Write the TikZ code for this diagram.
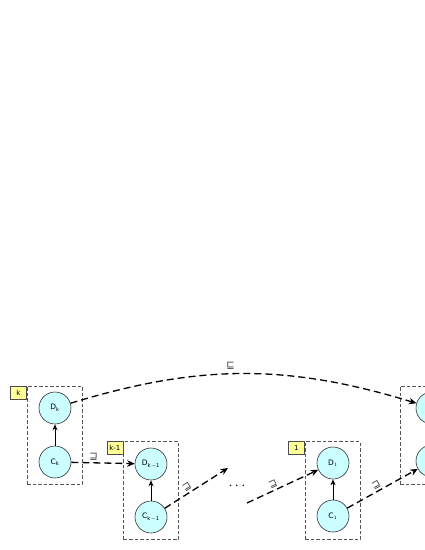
\documentclass[tikz,border=0pt]{standalone}
\usepackage{fontspec}
\setmainfont{DejaVu Sans}
\usetikzlibrary{arrows.meta}
\definecolor{cfill}{HTML}{CCFFFF}
\definecolor{tfill}{HTML}{FFFF99}
\definecolor{boxgray}{HTML}{555555}
\tikzset{
  var/.style={circle, draw=black!80, fill=cfill, line width=0.6pt, minimum size=32pt, inner sep=0pt, font=\fontsize{7.5}{8}\selectfont},
  plate/.style={draw=boxgray, dashed, dash pattern=on 3.5pt off 2pt, line width=0.7pt, minimum width=55pt, minimum height=98pt, inner sep=0pt},
  tag/.style={draw=black!70, fill=tfill, line width=0.5pt, minimum width=16pt, minimum height=13pt, inner sep=0pt, font=\fontsize{7}{8}\selectfont},
  solidarr/.style={-{Stealth[length=6pt,width=5pt]}, line width=0.9pt},
  dasharr/.style={-{Stealth[length=7.5pt,width=6.5pt]}, line width=1.3pt, dash pattern=on 7pt off 4pt},
  rel/.style={font=\fontsize{10}{10}\selectfont, text=black!75, inner sep=1.5pt}
}
\begin{document}
\begin{tikzpicture}[x=1pt,y=-1pt]
\useasboundingbox (0,0) rectangle (425,550);
\clip (0,0) rectangle (425,550);
% plates
\node[plate] (pk) at (54.5,435) {};
\node[tag, anchor=north east] (tk) at (pk.north west) {k};
\node[plate] (pk1) at (151,490.5) {};
\node[tag, anchor=north east] (tk1) at (pk1.north west) {k-1};
\node[plate] (p1) at (332.5,490.5) {};
\node[tag, anchor=north east] (t1) at (p1.north west) {1};
\node[plate] (p0) at (427.5,435) {};
% variables
\node[var] (Dk) at (55,408) {D$_{\mathrm{k}}$};
\node[var] (Ck) at (55,462) {C$_{\mathrm{k}}$};
\node[var] (Dk1) at (151,464) {D$_{\mathrm{k-1}}$};
\node[var] (Ck1) at (151,517) {C$_{\mathrm{k-1}}$};
\node[var] (D1) at (333,463) {D$_{1}$};
\node[var] (C1) at (333,516) {C$_{1}$};
\node[var] (D0) at (432,408) {};
\node[var] (C0) at (432,461) {};
% intra arrows
\draw[solidarr] (Ck) -- (Dk);
\draw[solidarr] (Ck1) -- (Dk1);
\draw[solidarr] (C1) -- (D1);
% free ends
\coordinate (e1) at (228,468);
\coordinate (s1) at (247,503);
\node[font=\fontsize{14}{14}\selectfont] (dots) at (237,486) {$\cdots$};
% dashed arrows
\draw[dasharr] (Dk) to[bend left=17] node[rel, pos=0.46, above=2pt] {⊑} (D0);
\draw[dasharr] (Ck) -- node[rel, pos=0.35, above] {⊒} (Dk1);
\draw[dasharr] (Ck1) -- node[rel, pos=0.4, above, sloped] {⊒} (e1);
\draw[dasharr] (s1) -- node[rel, pos=0.4, above, sloped] {⊒} (D1);
\draw[dasharr] (C1) -- node[rel, pos=0.45, above, sloped] {⊒} (C0);
\end{tikzpicture}
\end{document}
